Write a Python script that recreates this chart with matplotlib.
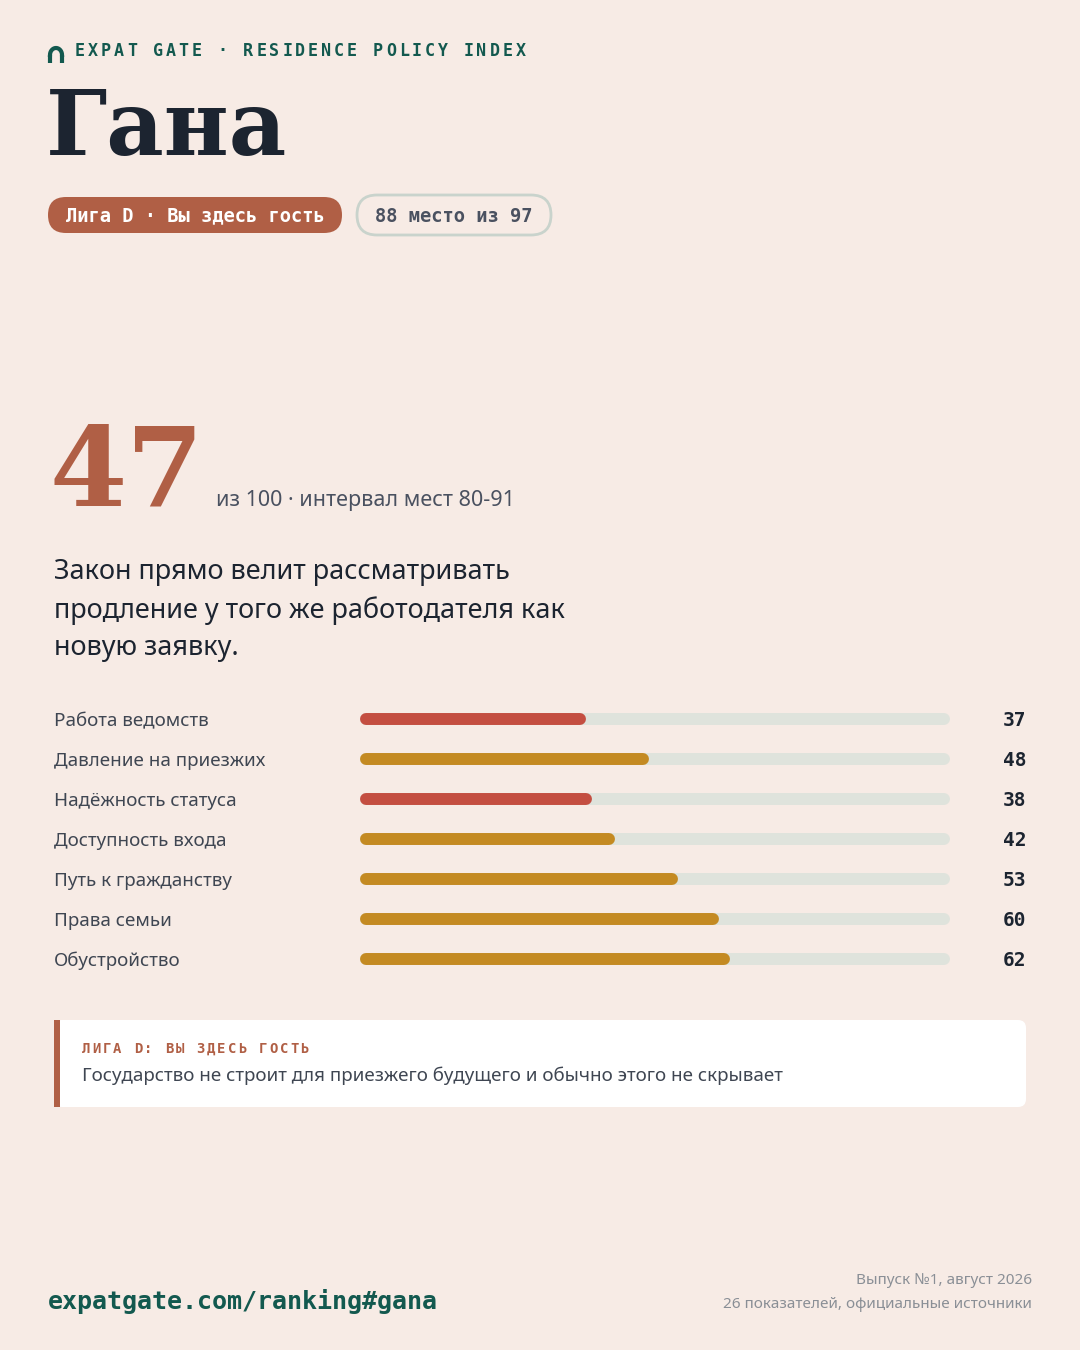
import matplotlib
matplotlib.use("Agg")
import matplotlib.pyplot as plt
from matplotlib.patches import FancyBboxPatch, Rectangle
import numpy as np

# данные
categories = ["Работа ведомств", "Давление на приезжих", "Надёжность статуса",
              "Доступность входа", "Путь к гражданству", "Права семьи", "Обустройство"]
scores = [37, 48, 38, 42, 53, 60, 62]
score_total = 47

BG = "#f7ebe5"
GREEN = "#13594f"
DARK = "#1c2430"
RUST = "#b05f45"
RED = "#c44e41"
GOLD = "#c48a22"
TRACK = "#dfe3dc"
GREY = "#8a8f96"

fig = plt.figure(figsize=(10.8, 13.5), dpi=100, facecolor=BG)
ov = fig.add_axes([0, 0, 1, 1])
ov.set_xlim(0, 1080)
ov.set_ylim(1350, 0)
ov.axis("off")

# шапка: значок-арка и разрядка букв
ov.plot([50, 50], [63, 55], color=GREEN, lw=3, solid_capstyle="butt")
ov.plot([62, 62], [63, 55], color=GREEN, lw=3, solid_capstyle="butt")
t = np.linspace(0, np.pi, 30)
ov.plot(56 + 6 * np.cos(t), 55 - 7 * np.sin(t), color=GREEN, lw=3)
header = "EXPAT GATE · RESIDENCE POLICY INDEX"
for k, ch in enumerate(header):
    ov.text(75 + k * 12.95, 51, ch, family="DejaVu Sans Mono", weight="bold",
            fontsize=12, color=GREEN, va="center")
ov.text(46, 131, "Гана", family="DejaVu Serif", weight="bold", fontsize=64,
        color=DARK, va="center")

# плашки
ov.add_patch(FancyBboxPatch((48, 197), 294, 36, boxstyle="round,pad=0,rounding_size=18",
                            fc=RUST, ec="none"))
ov.text(195, 216, "Лига D · Вы здесь гость", family="DejaVu Sans Mono", weight="bold",
        fontsize=13.5, color="white", ha="center", va="center")
ov.add_patch(FancyBboxPatch((357, 195), 194, 40, boxstyle="round,pad=0,rounding_size=20",
                            fc="none", ec="#c9d3cc", lw=2))
ov.text(454, 216, "88 место из 97", family="DejaVu Sans Mono", weight="bold",
        fontsize=13.5, color="#4a5160", ha="center", va="center")

# итог
ov.text(50, 505, str(score_total), family="DejaVu Serif", weight="bold", fontsize=80,
        color=RUST, va="baseline")
ov.text(216, 506, "из 100 · интервал мест 80-91", family="Noto Sans", fontsize=15.5,
        color="#4a5160", va="baseline")
ov.text(54, 610, "Закон прямо велит рассматривать\nпродление у того же работодателя как\nновую заявку.",
        family="Noto Sans", weight="semibold", fontsize=19.5, color=DARK, va="center",
        linespacing=1.45)

# бары
ax = fig.add_axes([360 / 1080, 1 - 979 / 1350, 590 / 1080, 280 / 1350])
ax.set_facecolor("none")
ax.set_xlim(-1.05, 101.05)
ax.set_ylim(len(categories) - 0.5, -0.5)
ax.axis("off")
for i, (c, v) in enumerate(zip(categories, scores)):
    col = RED if v < 40 else GOLD
    ax.plot([0, 100], [i, i], color=TRACK, lw=8.6, solid_capstyle="round")
    ax.plot([0, v], [i, i], color=col, lw=8.6, solid_capstyle="round")
    y = 719 + 40 * i
    ov.text(54, y + 2, c, family="Noto Sans", fontsize=13.5, color="#3f4652", va="center")
    ov.text(1026, y + 1, str(v), family="DejaVu Sans Mono", weight="bold", fontsize=14,
            color=DARK, va="center", ha="right")

# блок лиги
ov.add_patch(FancyBboxPatch((54, 1020), 972, 87, boxstyle="round,pad=0,rounding_size=8",
                            fc="white", ec="none"))
ov.add_patch(Rectangle((54, 1020), 6, 87, fc=RUST, ec="none"))
league = "ЛИГА D: ВЫ ЗДЕСЬ ГОСТЬ"
for k, ch in enumerate(league):
    ov.text(82 + k * 10.4, 1049, ch, family="DejaVu Sans Mono", weight="bold",
            fontsize=10, color=RUST, va="center")
ov.text(82, 1076, "Государство не строит для приезжего будущего и обычно этого не скрывает",
        family="Noto Sans", fontsize=13.5, color="#3f4652", va="center")

# подвал
ov.text(48, 1301, "expatgate.com/ranking#gana", family="DejaVu Sans Mono", weight="bold",
        fontsize=18, color=GREEN, va="center")
ov.text(1032, 1281, "Выпуск №1, август 2026", family="Noto Sans", fontsize=11,
        color=GREY, va="center", ha="right")
ov.text(1032, 1305, "26 показателей, официальные источники", family="Noto Sans",
        fontsize=11, color=GREY, va="center", ha="right")

fig.savefig("out.png", dpi=100, facecolor=BG)
